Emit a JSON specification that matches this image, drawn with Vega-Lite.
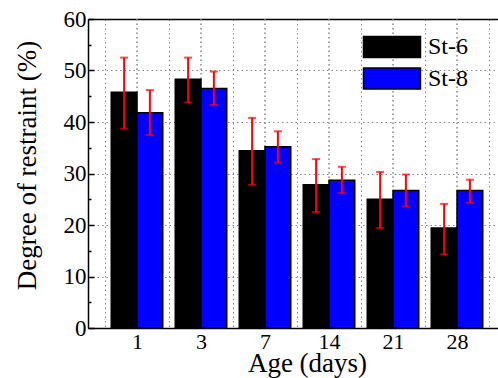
{
  "$schema": "https://vega.github.io/schema/vega-lite/v6.json",
  "autosize": {"type": "none"},
  "padding": {"left": 88, "top": 19, "right": 0, "bottom": 50},
  "width": 410,
  "height": 309,
  "background": "white",
  "config": {
    "view": {"stroke": null},
    "font": "Liberation Serif",
    "axis": {"labelFont": "Liberation Serif", "titleFont": "Liberation Serif"},
    "legend": {"labelFont": "Liberation Serif", "titleFont": "Liberation Serif"}
  },
  "data": {
    "values": [
      {"age": "1", "series": "St-6", "value": 45.8, "lo": 38.7, "hi": 52.5},
      {"age": "1", "series": "St-8", "value": 41.8, "lo": 37.5, "hi": 46.2},
      {"age": "3", "series": "St-6", "value": 48.3, "lo": 43.8, "hi": 52.5},
      {"age": "3", "series": "St-8", "value": 46.5, "lo": 43.3, "hi": 49.8},
      {"age": "7", "series": "St-6", "value": 34.4, "lo": 27.8, "hi": 40.8},
      {"age": "7", "series": "St-8", "value": 35.2, "lo": 32.1, "hi": 38.2},
      {"age": "14", "series": "St-6", "value": 27.8, "lo": 22.5, "hi": 32.8},
      {"age": "14", "series": "St-8", "value": 28.7, "lo": 26.2, "hi": 31.3},
      {"age": "21", "series": "St-6", "value": 25.0, "lo": 19.4, "hi": 30.3},
      {"age": "21", "series": "St-8", "value": 26.7, "lo": 23.6, "hi": 29.8},
      {"age": "28", "series": "St-6", "value": 19.4, "lo": 14.3, "hi": 24.1},
      {"age": "28", "series": "St-8", "value": 26.7, "lo": 24.3, "hi": 28.8}
    ]
  },
  "resolve": {"axis": {"x": "independent", "y": "independent"}},
  "layer": [
    {
      "mark": {"type": "rule", "color": "#888888", "strokeWidth": 1, "strokeDash": [1.5, 3]},
      "encoding": {
        "x": {
          "field": "age", "type": "ordinal", "sort": ["1", "3", "7", "14", "21", "28"],
          "scale": {"paddingInner": 0, "paddingOuter": 0.2031, "align": 0.654},
          "axis": {"orient": "top", "labels": false, "ticks": false, "grid": false, "domain": true, "domainColor": "black", "domainWidth": 1.5, "title": null}
        }
      }
    },
    {
      "mark": {"type": "bar", "stroke": "black", "strokeWidth": 1.5},
      "encoding": {
        "x": {
          "field": "age", "type": "ordinal", "sort": ["1", "3", "7", "14", "21", "28"],
          "axis": {
            "orient": "bottom", "title": "Age (days)", "labelAngle": 0,
            "labelFont": "Liberation Serif", "labelFontSize": 22, "labelColor": "black", "labelPadding": 3,
            "ticks": false, "domainColor": "black", "domainWidth": 1.5,
            "grid": true, "tickBand": "extent", "gridColor": "#888888", "gridDash": [1.5, 3], "gridWidth": 1, "gridOpacity": 1,
            "titleFont": "Liberation Serif", "titleFontSize": 27, "titleFontWeight": "normal", "titleColor": "black",
            "titleX": 219, "titleY": 43, "titleBaseline": "alphabetic", "titleAnchor": "middle"
          }
        },
        "xOffset": {"field": "series", "type": "nominal", "scale": {"paddingInner": 0, "paddingOuter": 0.243}},
        "y": {
          "field": "value", "type": "quantitative",
          "scale": {"domain": [0, 60], "nice": false},
          "axis": {
            "orient": "left",
            "title": "Degree of restraint (%)",
            "values": [0, 10, 20, 30, 40, 50, 60],
            "labelFont": "Liberation Serif", "labelFontSize": 23, "labelColor": "black", "labelPadding": 8,
            "tickColor": "black", "tickWidth": 1.5, "tickSize": -6,
            "domainColor": "black", "domainWidth": 1.5,
            "grid": true, "gridColor": "#888888", "gridDash": [1.5, 3], "gridWidth": 1,
            "titleFont": "Liberation Serif", "titleFontSize": 27, "titleFontWeight": "normal", "titleColor": "black",
            "titleX": -53, "titleY": 146, "titleBaseline": "alphabetic", "titleAngle": -90, "titleAnchor": "middle"
          }
        },
        "color": {
          "field": "series", "type": "nominal",
          "scale": {"domain": ["St-6", "St-8"], "range": ["#000000", "#0000FF"]},
          "legend": {
            "title": null, "orient": "none", "legendX": 289, "legendY": 13,
            "padding": 0,
            "symbolType": "M-2,-0.74H2V0.74H-2Z", "symbolSize": 812,
            "symbolStrokeColor": "black", "symbolStrokeWidth": 1.5, "symbolOpacity": 1,
            "labelFont": "Liberation Serif",
            "labelFontSize": 24, "labelColor": "black", "labelOffset": 21,
            "rowPadding": 2.5
          }
        }
      }
    },
    {
      "mark": {"type": "rule", "color": "#FF0000", "strokeWidth": 2},
      "encoding": {
        "x": {"field": "age", "type": "ordinal", "sort": ["1", "3", "7", "14", "21", "28"], "axis": null},
        "xOffset": {"field": "series", "type": "nominal"},
        "y": {
          "field": "lo", "type": "quantitative",
          "axis": {
            "orient": "left", "title": null,
            "values": [5, 15, 25, 35, 45, 55],
            "labels": false, "domain": false, "grid": false,
            "tickColor": "black", "tickWidth": 1.5, "tickSize": -3
          }
        },
        "y2": {"field": "hi"}
      }
    },
    {
      "mark": {"type": "tick", "color": "#FF0000", "thickness": 2, "size": 8, "orient": "horizontal"},
      "encoding": {
        "x": {"field": "age", "type": "ordinal", "sort": ["1", "3", "7", "14", "21", "28"], "axis": null},
        "xOffset": {"field": "series", "type": "nominal"},
        "y": {"field": "lo", "type": "quantitative", "axis": null}
      }
    },
    {
      "mark": {"type": "tick", "color": "#FF0000", "thickness": 2, "size": 8, "orient": "horizontal"},
      "encoding": {
        "x": {"field": "age", "type": "ordinal", "sort": ["1", "3", "7", "14", "21", "28"], "axis": null},
        "xOffset": {"field": "series", "type": "nominal"},
        "y": {"field": "hi", "type": "quantitative", "axis": null}
      }
    }
  ]
}
